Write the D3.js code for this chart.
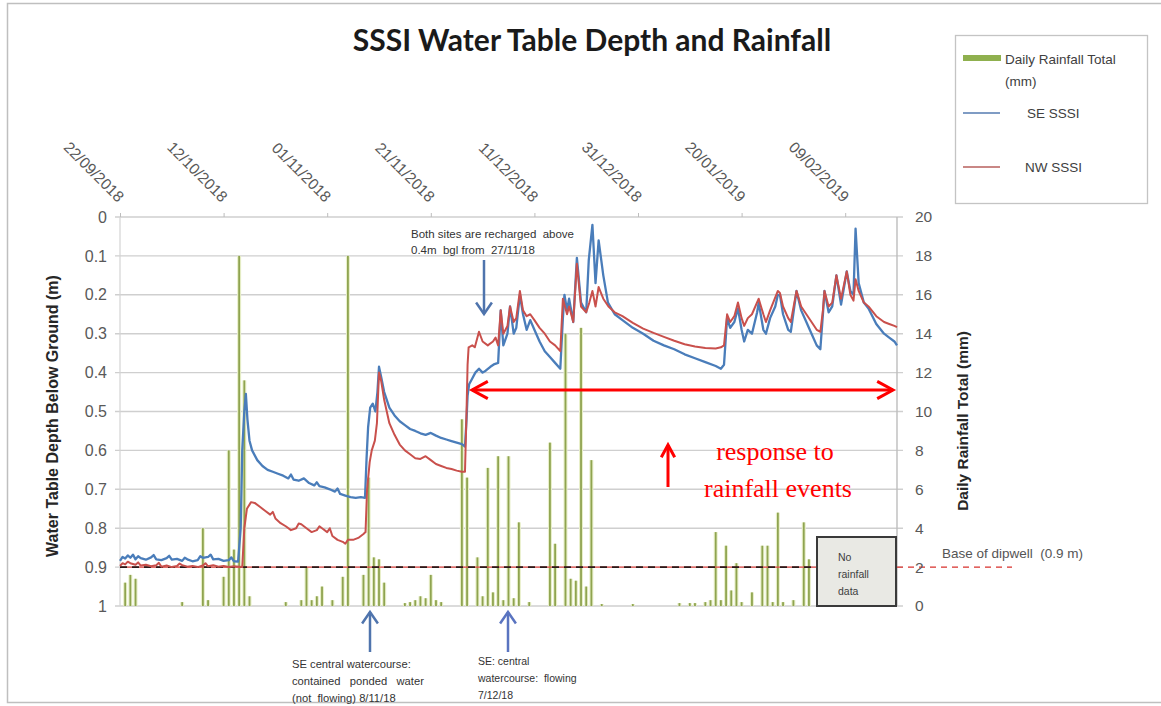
<!DOCTYPE html>
<html><head><meta charset="utf-8">
<script src="https://cdn.jsdelivr.net/npm/d3@7"></script>
<style>
html,body{margin:0;padding:0;background:#fff;}
svg{display:block;font-family:"Liberation Sans",Arial,sans-serif;}
</style></head><body>
<svg id="chart" width="1161" height="706"></svg>
<script>
// ---- data ----
const startDate = "22/09/2018";
const endDate = "19/02/2019";
const dateTicks = ["22/09/2018","12/10/2018","01/11/2018","21/11/2018","11/12/2018","31/12/2018","20/01/2019","09/02/2019"];
const depthTicks = [0,0.1,0.2,0.3,0.4,0.5,0.6,0.7,0.8,0.9,1];
const rainTicks = [0,2,4,6,8,10,12,14,16,18,20];
const dipwellBase = 0.9;

// [days after 22/09/2018, depth below ground (m)]
const seLevels = [[0,0.884],[0.5,0.874],[1,0.878],[1.5,0.870],[2,0.876],[2.5,0.868],[3,0.880],[3.5,0.872],[4,0.877],[5,0.881],[6,0.875],[6.5,0.869],[7,0.880],[8,0.882],[9,0.877],[9.5,0.871],[10,0.881],[11,0.879],[12,0.884],[12.5,0.876],[13,0.880],[14,0.885],[15,0.882],[15.5,0.872],[16,0.876],[17,0.874],[17.5,0.868],[18,0.880],[19,0.879],[20,0.884],[21,0.882],[21.5,0.875],[22,0.885],[22.8,0.886],
[23.3,0.80],[23.6,0.60],[24.0,0.50],[24.3,0.455],[24.6,0.52],[25.0,0.575],[25.5,0.60],[26.5,0.625],[27.5,0.64],[28.5,0.65],[29.5,0.655],[30.5,0.66],[31.5,0.665],[32.5,0.672],[33,0.662],[33.5,0.675],[34.5,0.678],[35.5,0.672],[36.5,0.684],[37.5,0.69],[38,0.682],[38.5,0.692],[39.5,0.695],[40.5,0.70],[41.5,0.706],[42,0.698],[42.5,0.712],[43.5,0.716],[44.5,0.72],[45.5,0.722],[46.5,0.72],[47.3,0.722],
[47.6,0.62],[47.9,0.54],[48.3,0.49],[48.8,0.48],[49.3,0.50],[49.7,0.45],[50.0,0.385],[50.4,0.41],[51,0.45],[52,0.49],[53,0.51],[54,0.525],[55,0.535],[56,0.545],[57,0.55],[58,0.556],[59,0.56],[60,0.555],[61,0.562],[62,0.568],[63,0.572],[64,0.576],[65,0.58],[66,0.584],[66.6,0.59],
[66.9,0.52],[67.1,0.46],[67.4,0.43],[68,0.415],[68.6,0.40],[69.3,0.39],[70,0.40],[70.6,0.395],[71.5,0.385],[72.3,0.378],[73.0,0.375],[73.5,0.24],[74.0,0.33],[74.8,0.30],[75.3,0.23],[76.0,0.30],[76.5,0.285],[77.2,0.20],[77.8,0.25],[78.5,0.29],[79.2,0.265],[80,0.29],[81,0.32],[82,0.345],[83,0.36],[84,0.375],[85,0.39],
[85.5,0.26],[85.8,0.20],[86.3,0.24],[86.7,0.21],[87.5,0.27],[88.2,0.105],[89,0.22],[90,0.245],[90.5,0.11],[91.2,0.02],[91.8,0.17],[92.4,0.06],[93.3,0.15],[94.2,0.22],[95.5,0.25],[97,0.265],[99,0.285],[101,0.30],[103,0.318],[105,0.33],[107,0.34],[109,0.353],[111,0.363],[113,0.373],[115,0.383],[116,0.39],[116.6,0.38],
[117.2,0.26],[117.8,0.285],[118.6,0.27],[119.3,0.235],[120,0.29],[120.5,0.32],[121.2,0.29],[122,0.30],[123,0.245],[123.3,0.22],[124.2,0.29],[124.7,0.30],[125.5,0.26],[126.5,0.23],[127,0.20],[127.4,0.20],[128,0.25],[129,0.29],[129.5,0.295],[130.6,0.19],[131.5,0.24],[132.5,0.27],[133.5,0.30],[134.5,0.33],[135.2,0.34],[135.7,0.25],[136,0.19],[136.8,0.245],[137.5,0.23],[138.3,0.15],[139.2,0.225],[140.3,0.14],[141,0.19],[141.6,0.20],[142,0.03],[142.6,0.17],[143.6,0.22],[144.5,0.235],[146,0.275],[147.5,0.30],[148.5,0.31],[149.5,0.32],[150,0.33]];

const nwLevels = [[0,0.897],[0.5,0.890],[1,0.893],[1.5,0.886],[2,0.890],[3,0.894],[3.5,0.888],[4,0.896],[5,0.894],[6,0.898],[7,0.895],[7.5,0.889],[8,0.899],[9,0.896],[10,0.900],[11,0.897],[11.5,0.891],[12,0.895],[13,0.899],[14,0.897],[15,0.900],[16,0.896],[16.5,0.890],[17,0.898],[18,0.895],[19,0.899],[20,0.897],[21,0.900],[22,0.898],[23,0.899],[23.6,0.90],
[24,0.80],[24.5,0.75],[25.3,0.733],[26,0.735],[27,0.745],[28,0.755],[29,0.765],[29.5,0.758],[30,0.775],[31,0.787],[32,0.795],[33,0.805],[34,0.80],[34.5,0.788],[35,0.79],[36,0.80],[37,0.81],[38,0.805],[38.5,0.795],[39,0.80],[40,0.81],[40.5,0.80],[41,0.82],[42,0.83],[43,0.835],[43.5,0.84],[44,0.83],[45,0.83],[46,0.825],[47,0.815],[47.4,0.81],
[47.7,0.70],[48.2,0.63],[48.6,0.60],[49.2,0.575],[49.6,0.53],[50,0.40],[50.4,0.42],[51,0.47],[52,0.53],[53,0.56],[54,0.585],[55,0.60],[56,0.61],[57,0.62],[58,0.622],[59,0.615],[60,0.625],[61,0.635],[62,0.64],[63,0.645],[64,0.648],[65,0.652],[66,0.655],[66.6,0.655],
[66.9,0.50],[67.1,0.38],[67.3,0.335],[68,0.33],[68.5,0.335],[69.3,0.295],[70,0.32],[71,0.33],[72,0.32],[72.5,0.31],[73,0.33],[73.5,0.24],[74,0.30],[74.8,0.28],[75.3,0.23],[76,0.27],[76.5,0.26],[77.2,0.19],[77.8,0.24],[78.5,0.255],[79.2,0.25],[80,0.265],[81,0.285],[82,0.30],[83,0.32],[84,0.33],[85,0.345],
[85.5,0.21],[86.3,0.25],[86.7,0.23],[87.5,0.27],[88.2,0.12],[89,0.23],[90,0.245],[90.6,0.22],[91.2,0.19],[91.8,0.23],[92.4,0.18],[93.3,0.21],[94.3,0.23],[95.5,0.245],[97,0.255],[99,0.272],[101,0.287],[103,0.298],[105,0.308],[107,0.318],[109,0.327],[111,0.333],[113,0.337],[115,0.338],[116,0.335],[116.6,0.33],
[117.2,0.25],[117.8,0.27],[118.6,0.255],[119.3,0.22],[120,0.26],[120.5,0.28],[121.2,0.26],[122,0.25],[123.3,0.21],[124.2,0.25],[124.7,0.27],[125.5,0.24],[127,0.19],[127.4,0.195],[128,0.23],[129,0.26],[129.5,0.27],[130.6,0.19],[131.5,0.23],[132.5,0.25],[133.5,0.27],[134.5,0.29],[135.2,0.295],[135.7,0.24],[136,0.19],[136.8,0.23],[137.5,0.22],[138.3,0.15],[139.2,0.21],[140.3,0.14],[141,0.20],[141.6,0.215],[142,0.16],[142.6,0.19],[143.6,0.22],[144.5,0.23],[146,0.255],[147.5,0.27],[148.5,0.275],[149.5,0.28],[150,0.283]];

// [days after 22/09/2018, daily rainfall (mm)]
const rainfall = [[1,1.2],[2,1.6],[3,1.4],[12,0.2],[16,4.0],[17,0.3],[20,1.5],[21,8.0],[22,2.9],[23,18.0],[24,11.6],[25,0.5],[32,0.2],[35,0.3],[36,2.0],[37,0.3],[38,0.5],[39,1.0],[41,0.3],[43,1.5],[44,18.0],[47,1.6],[48,6.6],[49,2.5],[50,2.4],[51,1.2],[55,0.15],[56,0.2],[57,0.3],[58,0.5],[59,0.4],[60,1.6],[61,0.3],[62,0.2],[66,9.6],[67,6.6],[69,2.5],[70,0.5],[71,7.1],[72,0.7],[73,7.7],[74,0.3],[75,7.7],[76,0.4],[77,4.3],[79,0.2],[83,8.4],[84,3.2],[86,14.0],[87,1.4],[88,1.3],[89,14.3],[90,1.0],[91,7.5],[93,0.1],[99,0.1],[108,0.15],[110,0.15],[111,0.15],[113,0.2],[114,0.3],[115,3.8],[116,0.3],[117,3.1],[118,0.8],[119,2.2],[120,0.2],[122,0.7],[124,3.1],[125,3.1],[126,0.2],[127,4.8],[128,0.2],[130,0.3],[132,4.3],[133,2.4]];

// ---- scales ----
const svg = d3.select("#chart");
const parse = d3.utcParse("%d/%m/%Y");
const t0 = parse(startDate);
const dayToDate = d => new Date(t0.getTime() + d * 864e5);
const x = d3.scaleUtc().domain([t0, parse(endDate)]).range([120, 897]);
const yDepth = d3.scaleLinear().domain([0, 1]).range([217, 606]);
const yRain = d3.scaleLinear().domain([0, 20]).range([606, 217]);
const [px0, px1] = x.range();

// chart frame
svg.append("rect").attr("x", 7.5).attr("y", 3.5).attr("width", 1165).attr("height", 699)
  .attr("fill", "none").attr("stroke", "#bfbfbf").attr("stroke-width", 1.5);

// horizontal gridlines
svg.append("g").selectAll("line").data(depthTicks).join("line")
  .attr("x1", px0 - 5).attr("x2", px1 + 6)
  .attr("y1", d => yDepth(d)).attr("y2", d => yDepth(d))
  .attr("stroke", "#cfcfcf").attr("stroke-width", 1.4);

// side axis lines
svg.append("line").attr("x1", px0).attr("x2", px0).attr("y1", yDepth(0)).attr("y2", yDepth(1))
  .attr("stroke", "#d4d4d4").attr("stroke-width", 1.2);
svg.append("line").attr("x1", px1).attr("x2", px1).attr("y1", yDepth(0)).attr("y2", yDepth(1))
  .attr("stroke", "#bdbdbd").attr("stroke-width", 1.4);

// rainfall bars
const barG = svg.append("g");
barG.selectAll("rect.halo").data(rainfall).join("rect").attr("class", "halo")
  .attr("x", d => x(dayToDate(d[0])) - 2).attr("width", 4)
  .attr("y", d => yRain(d[1])).attr("height", d => yRain(0) - yRain(d[1]))
  .attr("fill", "#e8efc9");
barG.selectAll("rect.core").data(rainfall).join("rect").attr("class", "core")
  .attr("x", d => x(dayToDate(d[0])) - 0.9).attr("width", 1.8)
  .attr("y", d => yRain(d[1])).attr("height", d => yRain(0) - yRain(d[1]))
  .attr("fill", "#8fa450");

// base of dipwell line
const yBase = yDepth(dipwellBase);
svg.append("line").attr("x1", px0).attr("x2", px1).attr("y1", yBase).attr("y2", yBase)
  .attr("stroke", "#e04a46").attr("stroke-width", 1.4);
svg.append("line").attr("x1", px0).attr("x2", px1).attr("y1", yBase).attr("y2", yBase)
  .attr("stroke", "#2a1a1a").attr("stroke-width", 1.6).attr("stroke-dasharray", "7,5");
svg.append("line").attr("x1", px1).attr("x2", 1012).attr("y1", yBase).attr("y2", yBase)
  .attr("stroke", "#d8302c").attr("stroke-width", 1.4).attr("stroke-dasharray", "6,5");
svg.append("text").attr("x", 942).attr("y", yBase - 9).attr("font-size", 13.5).attr("fill", "#555")
  .attr("xml:space", "preserve").text("Base of dipwell  (0.9 m)");

// water table series
const line = d3.line().x(d => x(dayToDate(d[0]))).y(d => yDepth(d[1]));
svg.append("path").datum(seLevels).attr("d", line).attr("fill", "none")
  .attr("stroke", "#4a7dba").attr("stroke-width", 2.3).attr("stroke-linejoin", "round");
svg.append("path").datum(nwLevels).attr("d", line).attr("fill", "none")
  .attr("stroke", "#c9504c").attr("stroke-width", 2).attr("stroke-linejoin", "round");

// top date axis
const xAxis = d3.axisTop(x).tickValues(dateTicks.map(parse)).tickFormat(d3.utcFormat("%d/%m/%Y")).tickSize(4);
const gx = svg.append("g").attr("transform", `translate(0,${yDepth(0)})`).call(xAxis);
gx.select(".domain").remove();
gx.selectAll(".tick line").attr("stroke", "#bdbdbd");
gx.selectAll(".tick text").attr("font-size", 15.5).attr("fill", "#595959")
  .attr("text-anchor", "end").attr("dy", null)
  .attr("transform", "translate(-3,-14) rotate(45)").attr("y", 0).attr("x", 0);

// left depth axis
const yAxisL = d3.axisLeft(yDepth).tickValues(depthTicks)
  .tickFormat(d => (d === 0 || d === 1) ? d3.format("d")(d) : d3.format(".1f")(d)).tickSize(0).tickPadding(13);
const gl = svg.append("g").attr("transform", `translate(${px0},0)`).call(yAxisL);
gl.select(".domain").remove();
gl.selectAll("text").attr("font-size", 16).attr("fill", "#595959");

// right rainfall axis
const yAxisR = d3.axisRight(yRain).tickValues(rainTicks).tickSize(0).tickPadding(18);
const gr = svg.append("g").attr("transform", `translate(${px1},0)`).call(yAxisR);
gr.select(".domain").remove();
gr.selectAll("text").attr("font-size", 15.5).attr("fill", "#595959");

// axis titles
svg.append("text").attr("transform", "translate(58,416) rotate(-90)")
  .attr("text-anchor", "middle").attr("font-size", 16).attr("font-weight", "bold").attr("fill", "#262626")
  .text("Water Table Depth Below Ground (m)");
svg.append("text").attr("transform", "translate(968,421) rotate(-90)")
  .attr("text-anchor", "middle").attr("font-size", 15.5).attr("font-weight", "bold").attr("fill", "#262626")
  .text("Daily Rainfall Total (mm)");

// title
svg.append("text").attr("x", 592).attr("y", 51).attr("text-anchor", "middle")
  .attr("font-size", 30).attr("font-weight", "bold").attr("fill", "#1a1a1a")
  .attr("font-family", "Lato, 'Liberation Sans', sans-serif")
  .text("SSSI Water Table Depth and Rainfall");

// legend
const lg = svg.append("g");
lg.append("rect").attr("x", 955.5).attr("y", 35.5).attr("width", 192).attr("height", 168)
  .attr("fill", "#fff").attr("stroke", "#c4c4c4").attr("stroke-width", 1.3);
lg.append("rect").attr("x", 963).attr("y", 55).attr("width", 38).attr("height", 6).attr("fill", "#8fb04e");
lg.append("line").attr("x1", 963).attr("x2", 1000).attr("y1", 113).attr("y2", 113).attr("stroke", "#7f9cc4").attr("stroke-width", 2.2);
lg.append("line").attr("x1", 963).attr("x2", 1000).attr("y1", 167).attr("y2", 167).attr("stroke", "#c98785").attr("stroke-width", 2.2);
const legendText = (t, xx, yy) => lg.append("text").attr("x", xx).attr("y", yy).attr("font-size", 13.5).attr("fill", "#404040").text(t);
legendText("Daily Rainfall Total", 1005, 64);
legendText("(mm)", 1005, 86);
legendText("SE SSSI", 1027, 118);
legendText("NW SSSI", 1025, 172);

// no-rainfall-data box
svg.append("rect").attr("x", 817).attr("y", 537).attr("width", 79).attr("height", 69)
  .attr("fill", "#e9e9e4").attr("stroke", "#3a3a3a").attr("stroke-width", 2);
["No", "rainfall", "data"].forEach((t, i) => svg.append("text").attr("x", 838).attr("y", 561 + i * 17)
  .attr("font-size", 10.5).attr("fill", "#404040").text(t));

// annotations
const note = (lines, xx, yy, dy, fs) => lines.forEach((t, i) => svg.append("text").attr("x", xx).attr("y", yy + i * dy)
  .attr("font-size", fs).attr("fill", "#333").attr("xml:space", "preserve").text(t));
note(["Both sites are recharged  above", "0.4m  bgl from  27/11/18"], 411, 238, 16, 11.5);
note(["SE central watercourse:", "contained   ponded   water", "(not  flowing) 8/11/18"], 292, 668, 17, 11.2);
note(["SE: central", "watercourse:  flowing", "7/12/18"], 478, 665, 17, 10.5);

const arrow = (x1, y1, x2, y2, color, w, head, spread) => {
  svg.append("line").attr("x1", x1).attr("y1", y1).attr("x2", x2).attr("y2", y2)
    .attr("stroke", color).attr("stroke-width", w);
  const a = Math.atan2(y2 - y1, x2 - x1);
  const p = d3.path();
  p.moveTo(x2 - head * Math.cos(a - spread), y2 - head * Math.sin(a - spread));
  p.lineTo(x2, y2);
  p.lineTo(x2 - head * Math.cos(a + spread), y2 - head * Math.sin(a + spread));
  svg.append("path").attr("d", p.toString()).attr("fill", "none").attr("stroke", color)
    .attr("stroke-width", w).attr("stroke-linejoin", "miter");
};
arrow(484, 260, 484, 314, "#4f74ad", 2.5, 14, 0.6);
arrow(370, 652, 370, 612, "#4f74ad", 2.5, 14, 0.6);
arrow(508, 652, 508, 612, "#5a74c0", 2.5, 14, 0.6);

// red span arrow and up arrow
arrow(682, 390, 472, 390, "#ff0000", 3, 18, 0.5);
arrow(682, 390, 893, 390, "#ff0000", 3, 18, 0.5);
arrow(668, 487, 668, 445, "#ff0000", 3, 14, 0.5);
svg.append("text").attr("x", 775).attr("y", 460).attr("text-anchor", "middle")
  .attr("font-family", "'Liberation Serif', 'Times New Roman', serif").attr("font-size", 26).attr("fill", "#ff0000")
  .text("response to");
svg.append("text").attr("x", 778).attr("y", 497).attr("text-anchor", "middle")
  .attr("font-family", "'Liberation Serif', 'Times New Roman', serif").attr("font-size", 26).attr("fill", "#ff0000")
  .text("rainfall events");
</script>
</body></html>
